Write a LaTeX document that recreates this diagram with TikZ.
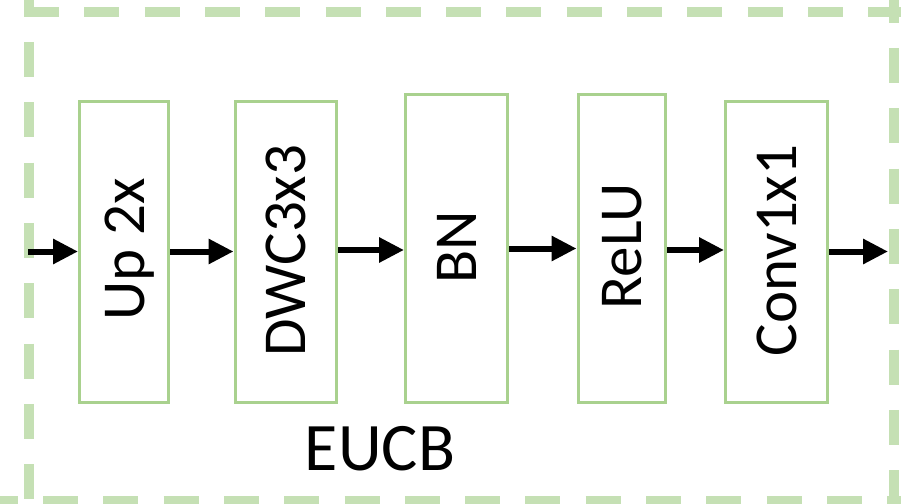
\documentclass[tikz,border=0pt]{standalone}
\usepackage{fontspec}
\setmainfont{Carlito}
\usetikzlibrary{arrows.meta}
\definecolor{boxgreen}{RGB}{169,209,142}
\definecolor{framegreen}{RGB}{197,224,180}
\begin{document}
\begin{tikzpicture}[x=1pt,y=-1pt,
  stagebox/.style={draw=boxgreen, line width=3pt, inner sep=0pt},
  stagelabel/.style={rotate=90, inner sep=0pt, font=\fontsize{61}{61}\selectfont,
    text height=38.5pt, text depth=0pt},
  flow/.style={line width=6pt, -{Triangle[length=25pt,width=24pt]}},
  framedash/.style={framegreen, line width=10pt, dash pattern=on 35pt off 25.3pt}]
\useasboundingbox (0,0) rectangle (901,503);
\clip (0,0) rectangle (901,503);

% dashed outline of the block, one side at a time
\draw[framedash] (24,12) -- (910,12);
\draw[framedash] (29,-18.3) -- (29,510);
\draw[framedash] (894,-12.3) -- (894,510);
\draw[framedash] (-17.3,501) -- (910,501);

% processing stages
\node[stagebox, minimum width=89pt,    minimum height=301pt]   (up)   at (124,251.5)    {};
\node[stagebox, minimum width=101.5pt, minimum height=301pt]   (dwc)  at (285.75,251.5) {};
\node[stagebox, minimum width=102pt,   minimum height=307.5pt] (bn)   at (456.5,248.25) {};
\node[stagebox, minimum width=87.5pt,  minimum height=307.5pt] (relu) at (621.75,248.25) {};
\node[stagebox, minimum width=102pt,   minimum height=300.5pt] (conv) at (776.5,251.75) {};

\node[stagelabel] (upT)   at (125,249.5)   {Up 2x};
\node[stagelabel] (dwcT)  at (286,250.5)   {DWC3x3};
\node[stagelabel] (bnT)   at (457,247)     {BN};
\node[stagelabel] (reluT) at (622,246.5)   {ReLU};
\node[stagelabel] (convT) at (777.5,250.5) {Conv1x1};

\node[inner sep=0pt, font=\fontsize{68}{68}\selectfont, text height=43pt, text depth=0pt]
  (title) at (380,448.5) {EUCB};

% data flow
\coordinate (in)  at (28,251.5);
\coordinate (out) at (888,251.5);
\draw[flow] (in) -- (up.west |- in);
\draw[flow] (up.east |- 0,251.5) -- (dwc.west |- 0,251.5);
\draw[flow] (dwc.east |- 0,250) -- (bn.west |- 0,250);
\draw[flow] (bn.east |- 0,248.5) -- (relu.west |- 0,248.5);
\draw[flow] (relu.east |- 0,250) -- (conv.west |- 0,250);
\draw[flow] (conv.east |- out) -- (out);
\end{tikzpicture}
\end{document}
